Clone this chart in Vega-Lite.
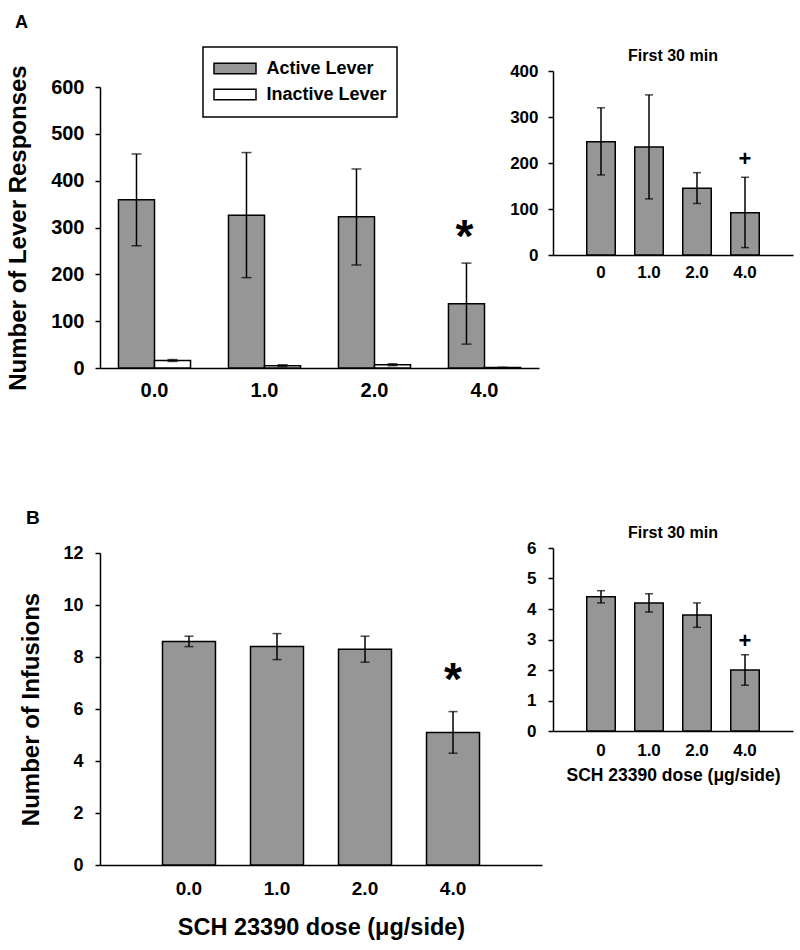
{
  "$schema": "https://vega.github.io/schema/vega-lite/v6.json",
  "background": "white",
  "padding": {"left": 6, "top": 13, "right": 5, "bottom": 5},
  "config": {
    "font": "Liberation Sans",
    "view": {"stroke": null},
    "axis": {
      "domainColor": "black", "domainWidth": 1.5,
      "tickColor": "black", "tickWidth": 1.5,
      "labelColor": "black", "labelFontWeight": "bold", "labelFont": "Liberation Sans",
      "titleColor": "black", "titleFontWeight": "bold", "titleFont": "Liberation Sans",
      "labelOverlap": false,
      "grid": false
    },
    "title": {"font": "Liberation Sans", "fontWeight": "bold", "color": "black"}
  },
  "datasets": {
    "leverTotal": [
      {"dose": "0.0", "lever": "Active Lever", "mean": 359, "lo": 261, "hi": 457},
      {"dose": "0.0", "lever": "Inactive Lever", "mean": 16, "lo": 14, "hi": 18},
      {"dose": "1.0", "lever": "Active Lever", "mean": 326, "lo": 193, "hi": 460},
      {"dose": "1.0", "lever": "Inactive Lever", "mean": 5, "lo": 3, "hi": 7},
      {"dose": "2.0", "lever": "Active Lever", "mean": 323, "lo": 220, "hi": 425},
      {"dose": "2.0", "lever": "Inactive Lever", "mean": 7, "lo": 5, "hi": 9},
      {"dose": "4.0", "lever": "Active Lever", "mean": 137, "lo": 51, "hi": 224},
      {"dose": "4.0", "lever": "Inactive Lever", "mean": 1, "lo": 0.5, "hi": 1.5}
    ],
    "leverFirst30": [
      {"dose": "0", "mean": 246, "lo": 174, "hi": 320},
      {"dose": "1.0", "mean": 235, "lo": 122, "hi": 348},
      {"dose": "2.0", "mean": 145, "lo": 112, "hi": 179},
      {"dose": "4.0", "mean": 92, "lo": 16, "hi": 169}
    ],
    "infTotal": [
      {"dose": "0.0", "mean": 8.6, "lo": 8.4, "hi": 8.8},
      {"dose": "1.0", "mean": 8.4, "lo": 7.9, "hi": 8.9},
      {"dose": "2.0", "mean": 8.3, "lo": 7.8, "hi": 8.8},
      {"dose": "4.0", "mean": 5.1, "lo": 4.3, "hi": 5.9}
    ],
    "infFirst30": [
      {"dose": "0", "mean": 4.4, "lo": 4.2, "hi": 4.6},
      {"dose": "1.0", "mean": 4.2, "lo": 3.9, "hi": 4.5},
      {"dose": "2.0", "mean": 3.8, "lo": 3.4, "hi": 4.2},
      {"dose": "4.0", "mean": 2.0, "lo": 1.5, "hi": 2.5}
    ]
  },
  "columns": 2,
  "bounds": "flush",
  "align": "all",
  "spacing": {"row": 160, "column": 11},
  "concat": [
    {
      "width": 439,
      "height": 297,
      "title": {"text": "A", "anchor": "start", "frame": "group", "orient": "top", "dx": -85, "offset": 19, "fontSize": 18, "baseline": "alphabetic"},
      "data": {"name": "leverTotal"},
      "encoding": {
        "x": {"field": "dose", "type": "nominal", "sort": null, "title": null,
              "scale": {"domain": ["0.0", "1.0", "2.0", "4.0"], "paddingInner": 0.345, "paddingOuter": 0.168},
              "axis": {"labelAngle": 0, "ticks": false, "tickSize": 0, "labelFontSize": 20, "labelPadding": 12}},
        "xOffset": {"field": "lever", "type": "nominal", "scale": {"domain": ["Active Lever", "Inactive Lever"], "paddingInner": 0, "paddingOuter": 0}}
      },
      "layer": [
        {
          "mark": {"type": "bar", "stroke": "black", "strokeWidth": 1.5},
          "encoding": {
            "y": {"field": "mean", "type": "quantitative", "title": "Number of Lever Responses",
                  "scale": {"domain": [0, 600], "range": [297, 16], "nice": false},
                  "axis": {"values": [0, 100, 200, 300, 400, 500, 600], "tickCount": 10, "tickSize": 5, "labelFontSize": 20, "labelPadding": 11, "titleFontSize": 24, "titlePadding": 20}},
            "fill": {"field": "lever", "type": "nominal",
                     "scale": {"domain": ["Active Lever", "Inactive Lever"], "range": ["#969696", "#ffffff"]},
                     "legend": {"orient": "none", "legendX": 103, "legendY": -24, "direction": "vertical",
                                "title": " ", "titleOrient": "bottom", "titleFontSize": 2, "titlePadding": 1,
                                "strokeColor": "black", "fillColor": "white", "padding": 10,
                                "labelFontSize": 18, "labelFontWeight": "bold", "labelColor": "black", "labelOffset": 20, "rowPadding": 5,
                                "symbolType": "M-2,-0.5H2V0.5H-2Z", "symbolSize": 441, "symbolOffset": 10.5,
                                "symbolStrokeColor": "black", "symbolStrokeWidth": 1.5, "symbolOpacity": 1,
                                "encode": {"legend": {"update": {"strokeWidth": {"value": 1.5}}}}}}
          }
        },
        {
          "mark": {"type": "rule", "color": "black", "strokeWidth": 1.5},
          "encoding": {
            "y": {"field": "lo", "type": "quantitative", "title": "Number of Lever Responses"},
            "y2": {"field": "hi"}
          }
        },
        {
          "mark": {"type": "tick", "color": "black", "size": 10, "thickness": 1.5},
          "encoding": {"y": {"field": "lo", "type": "quantitative", "title": "Number of Lever Responses"}}
        },
        {
          "mark": {"type": "tick", "color": "black", "size": 10, "thickness": 1.5},
          "encoding": {"y": {"field": "hi", "type": "quantitative", "title": "Number of Lever Responses"}}
        },
        {
          "data": {"values": [{"dose": "4.0", "lever": "Active Lever", "pos": 248, "label": "*"}]},
          "mark": {"type": "text", "fontSize": 46, "fontWeight": "bold", "baseline": "alphabetic", "color": "black", "dx": -2},
          "encoding": {
            "y": {"field": "pos", "type": "quantitative", "title": "Number of Lever Responses"},
            "text": {"field": "label"}
          }
        }
      ]
    },
    {
      "width": 240,
      "height": 184,
      "title": {"text": "First 30 min", "anchor": "middle", "frame": "group", "orient": "top", "offset": -15, "fontSize": 16, "baseline": "alphabetic"},
      "data": {"name": "leverFirst30"},
      "encoding": {
        "x": {"field": "dose", "type": "nominal", "sort": null, "title": null,
              "scale": {"domain": ["0", "1.0", "2.0", "4.0"], "paddingInner": 0.406, "paddingOuter": 0.703},
              "axis": {"labelAngle": 0, "ticks": false, "tickSize": 0, "labelFontSize": 17, "labelPadding": 9}}
      },
      "layer": [
        {
          "mark": {"type": "bar", "fill": "#969696", "stroke": "black", "strokeWidth": 1.5},
          "encoding": {
            "y": {"field": "mean", "type": "quantitative", "title": null,
                  "scale": {"domain": [0, 400], "nice": false},
                  "axis": {"values": [0, 100, 200, 300, 400], "tickCount": 10, "tickSize": 5, "labelFontSize": 17, "labelPadding": 10}}
          }
        },
        {
          "mark": {"type": "rule", "color": "black", "strokeWidth": 1.5},
          "encoding": {"y": {"field": "lo", "type": "quantitative", "title": null}, "y2": {"field": "hi"}}
        },
        {
          "mark": {"type": "tick", "color": "black", "size": 8, "thickness": 1.5},
          "encoding": {"y": {"field": "lo", "type": "quantitative", "title": null}}
        },
        {
          "mark": {"type": "tick", "color": "black", "size": 8, "thickness": 1.5},
          "encoding": {"y": {"field": "hi", "type": "quantitative", "title": null}}
        },
        {
          "data": {"values": [{"dose": "4.0", "pos": 192.4, "label": "+"}]},
          "mark": {"type": "text", "fontSize": 22, "fontWeight": "bold", "baseline": "alphabetic", "color": "black"},
          "encoding": {"y": {"field": "pos", "type": "quantitative", "title": null}, "text": {"field": "label"}}
        }
      ]
    },
    {
      "width": 442,
      "height": 317,
      "title": {"text": "B", "anchor": "start", "frame": "group", "orient": "top", "dx": -74, "offset": 1.5, "fontSize": 19, "baseline": "alphabetic"},
      "data": {"name": "infTotal"},
      "encoding": {
        "x": {"field": "dose", "type": "nominal", "sort": null, "title": "SCH 23390 dose (μg/side)",
              "scale": {"domain": ["0.0", "1.0", "2.0", "4.0"], "paddingInner": 0.398, "paddingOuter": 0.71},
              "axis": {"labelAngle": 0, "ticks": false, "tickSize": 0, "labelFontSize": 19, "labelPadding": 14, "titleFontSize": 23.5, "titlePadding": 17}}
      },
      "layer": [
        {
          "mark": {"type": "bar", "fill": "#969696", "stroke": "black", "strokeWidth": 1.5},
          "encoding": {
            "y": {"field": "mean", "type": "quantitative", "title": "Number of Infusions",
                  "scale": {"domain": [0, 12], "range": [317, 5], "nice": false},
                  "axis": {"values": [0, 2, 4, 6, 8, 10, 12], "tickCount": 10, "tickSize": 5, "labelFontSize": 18, "labelPadding": 12, "titleFontSize": 24, "titlePadding": 19}}
          }
        },
        {
          "mark": {"type": "rule", "color": "black", "strokeWidth": 1.5},
          "encoding": {"y": {"field": "lo", "type": "quantitative", "title": "Number of Infusions"}, "y2": {"field": "hi"}}
        },
        {
          "mark": {"type": "tick", "color": "black", "size": 9, "thickness": 1.5},
          "encoding": {"y": {"field": "lo", "type": "quantitative", "title": "Number of Infusions"}}
        },
        {
          "mark": {"type": "tick", "color": "black", "size": 9, "thickness": 1.5},
          "encoding": {"y": {"field": "hi", "type": "quantitative", "title": "Number of Infusions"}}
        },
        {
          "data": {"values": [{"dose": "4.0", "pos": 6.53, "label": "*"}]},
          "mark": {"type": "text", "fontSize": 46, "fontWeight": "bold", "baseline": "alphabetic", "color": "black"},
          "encoding": {"y": {"field": "pos", "type": "quantitative", "title": "Number of Infusions"}, "text": {"field": "label"}}
        }
      ]
    },
    {
      "width": 240,
      "height": 183,
      "title": {"text": "First 30 min", "anchor": "middle", "frame": "group", "orient": "top", "offset": -15, "fontSize": 16, "baseline": "alphabetic"},
      "data": {"name": "infFirst30"},
      "encoding": {
        "x": {"field": "dose", "type": "nominal", "sort": null, "title": "SCH 23390 dose (μg/side)",
              "scale": {"domain": ["0", "1.0", "2.0", "4.0"], "paddingInner": 0.406, "paddingOuter": 0.703},
              "axis": {"labelAngle": 0, "ticks": false, "tickSize": 0, "labelFontSize": 17, "labelPadding": 11, "titleFontSize": 17.5, "titlePadding": 8}}
      },
      "layer": [
        {
          "mark": {"type": "bar", "fill": "#969696", "stroke": "black", "strokeWidth": 1.5},
          "encoding": {
            "y": {"field": "mean", "type": "quantitative", "title": null,
                  "scale": {"domain": [0, 6], "nice": false},
                  "axis": {"values": [0, 1, 2, 3, 4, 5, 6], "tickCount": 10, "format": "d", "tickSize": 5, "labelFontSize": 17, "labelPadding": 12}}
          }
        },
        {
          "mark": {"type": "rule", "color": "black", "strokeWidth": 1.5},
          "encoding": {"y": {"field": "lo", "type": "quantitative", "title": null}, "y2": {"field": "hi"}}
        },
        {
          "mark": {"type": "tick", "color": "black", "size": 8, "thickness": 1.5},
          "encoding": {"y": {"field": "lo", "type": "quantitative", "title": null}}
        },
        {
          "mark": {"type": "tick", "color": "black", "size": 8, "thickness": 1.5},
          "encoding": {"y": {"field": "hi", "type": "quantitative", "title": null}}
        },
        {
          "data": {"values": [{"dose": "4.0", "pos": 2.73, "label": "+"}]},
          "mark": {"type": "text", "fontSize": 22, "fontWeight": "bold", "baseline": "alphabetic", "color": "black"},
          "encoding": {"y": {"field": "pos", "type": "quantitative", "title": null}, "text": {"field": "label"}}
        }
      ]
    }
  ]
}
